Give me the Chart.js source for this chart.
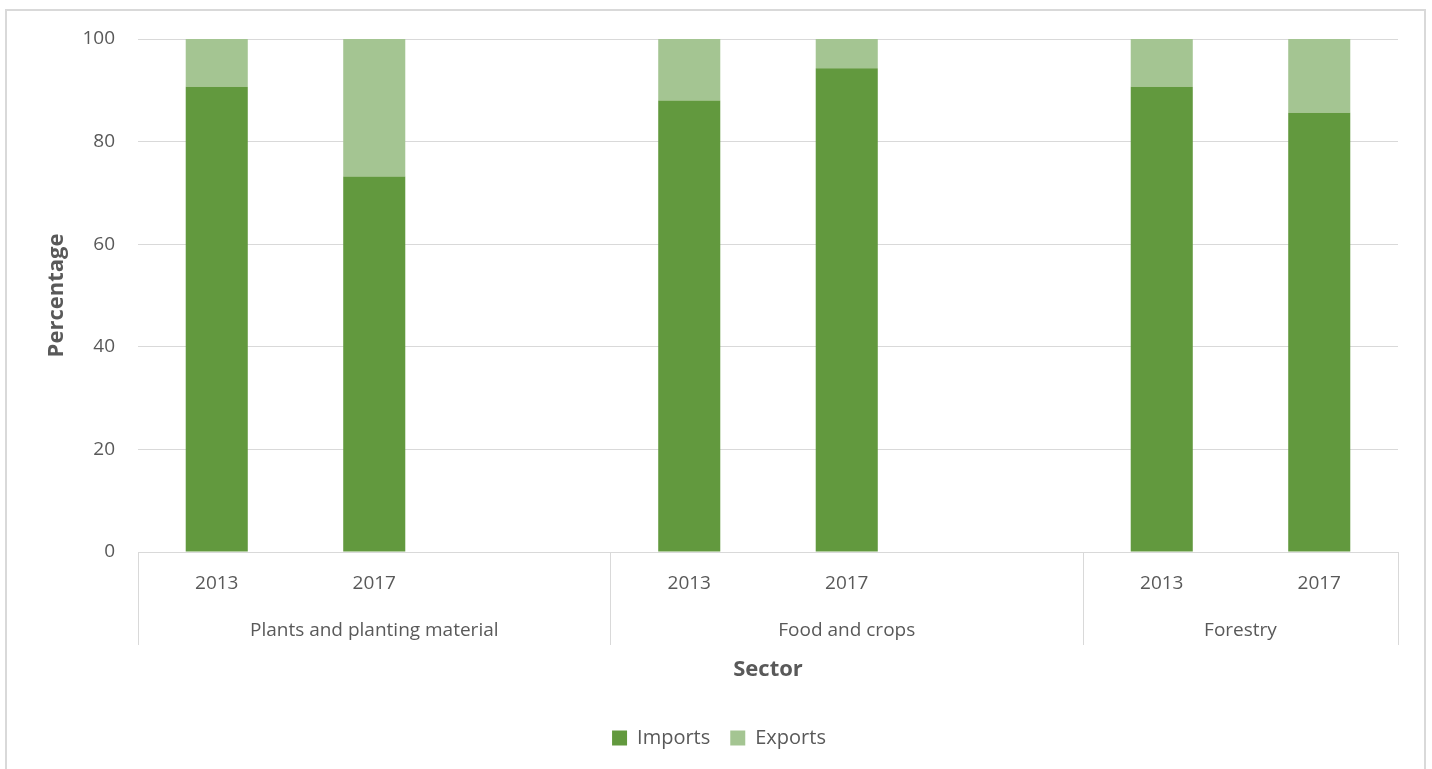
<!DOCTYPE html>
<html>
<head>
<meta charset="utf-8">
<script src="https://cdn.jsdelivr.net/npm/chart.js@4"></script>
<style>
  body { margin: 0; background: #fff; overflow: hidden; }
  #wrap { position: relative; width: 1432px; height: 769px; }
  #frame {
    position: absolute; left: 5px; top: 9px; width: 1417px; height: 780px;
    border: 2px solid #d9d9d9; pointer-events: none;
  }
</style>
</head>
<body>
<div id="wrap">
  <canvas id="chart" width="1432" height="769"></canvas>
  <div id="frame"></div>
</div>
<script>
// ============================
// Data
// ============================
const years = ['2013', '2017', '', '2013', '2017', '', '2013', '2017'];
const imports = [90.7, 73.2, null, 88.0, 94.3, null, 90.7, 85.6];
const exports = [9.3, 26.8, null, 12.0, 5.7, null, 9.3, 14.4];
const sectors = ['Plants and planting material', 'Food and crops', 'Forestry'];
const sectorSlots = [3, 3, 2];

// sector boundaries and centres, in category units
let edges = [0];
let centres = [];
sectorSlots.forEach(n => {
    let start = edges[edges.length - 1];
    centres.push(start + n / 2);
    edges.push(start + n);
});

const textColor = '#595959';
const lineColor = '#d9d9d9';

Chart.defaults.font.family = "'Open Sans', sans-serif";
Chart.defaults.font.size = 19;
Chart.defaults.color = textColor;

// ============================
// Chart
// ============================
const ctx = document.getElementById('chart').getContext('2d');
let chart = new Chart(ctx, {
    type: 'bar',
    data: {
        labels: years,
        datasets: [{
            label: 'Imports',
            data: imports,
            backgroundColor: '#62993e',
        }, {
            label: 'Exports',
            data: exports,
            backgroundColor: '#a4c592',
        }]
    },
    options: {
        responsive: false,
        animation: false,
        layout: { padding: { left: 40, right: 34, top: 39, bottom: 11 } },
        datasets: {
            bar: { categoryPercentage: 1, barPercentage: 0.394 }
        },
        plugins: {
            tooltip: { enabled: false },
            legend: {
                position: 'bottom',
                labels: { boxWidth: 15, boxHeight: 15, padding: 20, color: textColor, font: { size: 20 } }
            }
        },
        scales: {
            y: {
                stacked: true,
                min: 0, max: 100,
                ticks: { stepSize: 20, padding: 23 },
                grid: { color: lineColor, drawTicks: false },
                border: { display: false },
                title: {
                    display: true, text: 'Percentage',
                    font: { size: 22, weight: 'bold' },
                    padding: { top: 4, bottom: 0 }
                },
                afterFit: s => { s.width = 98; }
            },
            x: {
                stacked: true,
                ticks: { autoSkip: false, maxRotation: 0, padding: -22 },
                grid: {
                    offset: true,
                    drawOnChartArea: false,
                    tickLength: 42,
                    color: c => (c.index === undefined || [0, 3, 6].includes(c.index)) ? lineColor : 'transparent'
                },
                border: { display: false },
                afterFit: s => { s.height = 42; }
            },
            sector: {
                type: 'linear',
                position: 'bottom',
                offset: false,
                min: 0, max: years.length,
                afterBuildTicks: s => {
                    s.ticks = edges.concat(centres).sort((a, b) => a - b).map(v => ({ value: v }));
                },
                ticks: {
                    autoSkip: false, maxRotation: 0, padding: -26,
                    callback: v => {
                        let i = centres.indexOf(v);
                        return i >= 0 ? sectors[i] : '';
                    }
                },
                grid: {
                    offset: false,
                    drawOnChartArea: false,
                    tickLength: 51,
                    color: c => (c.tick && edges.includes(c.tick.value)) ? lineColor : 'transparent'
                },
                border: { display: false },
                title: {
                    display: true, text: 'Sector',
                    font: { size: 22, weight: 'bold' },
                    padding: { top: 0, bottom: 25 }
                },
                afterFit: s => { s.height = 114; }
            }
        }
    }
});
</script>
</body>
</html>
